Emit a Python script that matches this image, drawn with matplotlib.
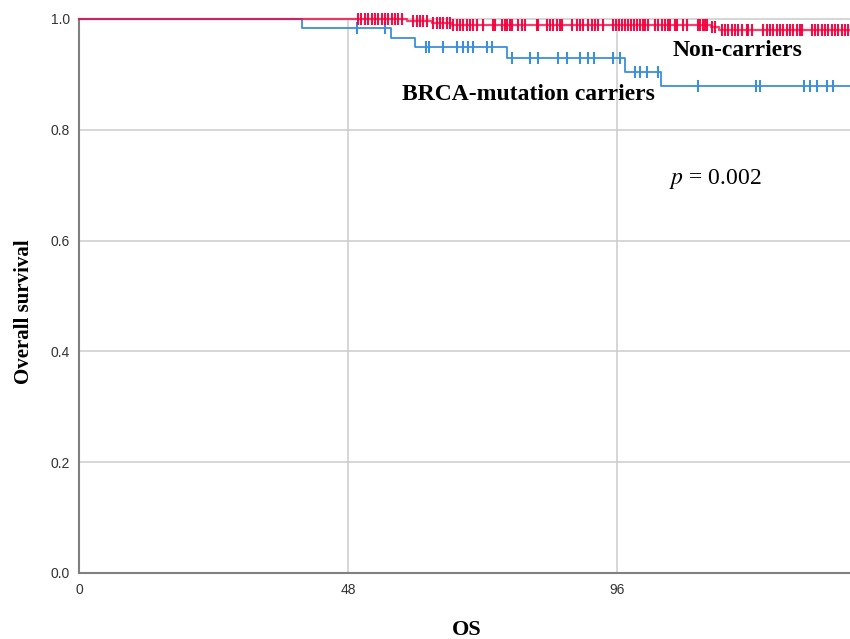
import numpy as np
import matplotlib
matplotlib.use('Agg')
import matplotlib.pyplot as plt

# Kaplan-Meier curves (time in months)
blue_times = [39.7, 55.6, 59.9, 76.3, 97.4, 103.8]
blue_surv = [0.984, 0.965, 0.950, 0.930, 0.905, 0.879]
blue_censored = [49.5, 54.6, 61.9, 62.5, 65.0, 67.4, 68.5, 69.4, 70.3, 72.7, 73.6,
                 77.2, 80.5, 81.9, 85.5, 87.0, 89.4, 90.9, 91.8, 95.3, 96.5,
                 99.2, 100.1, 101.3, 103.4, 110.5, 120.9, 121.5, 129.3, 130.5,
                 131.7, 133.5, 134.6]

red_times = [58.5, 63.0, 66.5, 112.8, 114.2]
red_surv = [0.997, 0.993, 0.990, 0.986, 0.981]
red_censored = [49.7, 50.3, 51.0, 51.5, 52.2, 52.8, 53.3, 54.0, 54.6, 55.1, 55.8,
                56.3, 56.9, 57.6, 59.6, 60.3, 60.8, 61.4, 62.1, 63.1, 63.9, 64.4,
                64.9, 65.6, 66.2, 66.7, 67.4, 67.9, 68.5, 69.2, 69.7, 70.3, 71.0,
                72.1, 73.9, 74.2, 75.5, 76.0, 76.4, 76.9, 77.2, 78.3, 79.0, 79.6,
                81.7, 81.9, 83.5, 84.0, 84.6, 85.3, 85.8, 86.2, 88.0, 88.9, 89.4,
                89.9, 90.8, 91.5, 92.1, 92.6, 93.5, 95.3, 95.8, 96.4, 96.9, 97.4,
                98.0, 98.5, 99.0, 99.6, 100.1, 100.6, 101.0, 101.5, 102.8, 103.3,
                104.0, 104.6, 105.1, 105.5, 106.4, 106.7, 107.8, 108.5, 110.5,
                110.8, 111.4, 111.7, 112.1, 112.9, 113.5, 114.8, 115.3, 115.8,
                116.5, 117.1, 117.6, 118.3, 119.2, 119.4, 120.1, 122.1, 122.8,
                123.3, 123.9, 124.6, 125.1, 125.6, 126.4, 126.9, 127.4, 128.1,
                128.7, 129.0, 130.8, 131.4, 131.9, 132.6, 133.1, 133.7, 134.4,
                134.9, 135.5, 136.2, 136.7, 137.2]

x_ticks = [0, 48, 96]
y_ticks = [0.0, 0.2, 0.4, 0.6, 0.8, 1.0]
x_max = 137.6

blue = '#3d8fdb'
red = '#f5003d'


def km_value(t, times, surv):
    idx = np.searchsorted(times, t, side='right')
    return np.concatenate([[1.0], surv])[idx]


fig = plt.figure(figsize=(8.5, 6.39), dpi=100)
ax = fig.add_axes([0.0935, 0.1033, 1 - 0.0935, 0.867])

# grid
for y in y_ticks[1:]:
    ax.axhline(y, color='#cccccc', lw=1.1, zorder=0, clip_on=False)
for x in x_ticks[1:]:
    ax.axvline(x, color='#cccccc', lw=1.1, zorder=0)

# curves
for times, surv, cens, col, alpha, lw in [(blue_times, blue_surv, blue_censored, blue, 1.0, 1.3),
                                          (red_times, red_surv, red_censored, red, 0.75, 1.6)]:
    xs = np.concatenate([[0], times, [x_max]])
    ys = np.concatenate([[1.0], surv, [surv[-1]]])
    ax.step(xs, ys, where='post', color=col, lw=lw, alpha=alpha, zorder=3, clip_on=False)
    cy = km_value(np.array(cens), times, surv)
    ax.plot(cens, cy, ls='none', marker='|', ms=8.5, mew=1.5, color=col, alpha=min(1, alpha + 0.2),
            zorder=3, clip_on=False)

ax.set_xlim(0, x_max)
ax.set_ylim(0, 1.0)
ax.set_xticks(x_ticks)
ax.set_yticks(y_ticks)
ax.set_yticklabels(['%.1f' % v for v in y_ticks])
ax.tick_params(length=0, pad=7, labelsize=10, labelcolor='#333333')
for lab in ax.get_xticklabels() + ax.get_yticklabels():
    lab.set_family(['Liberation Sans Narrow', 'Liberation Sans'])

for side in ['top', 'right']:
    ax.spines[side].set_visible(False)
for side in ['left', 'bottom']:
    ax.spines[side].set_color('#808080')
    ax.spines[side].set_linewidth(1.5)

serif = ['Liberation Serif', 'DejaVu Serif']
ax.text(106.0, 0.944, 'Non-carriers', family=serif, fontweight='bold', fontsize=17, va='center')
ax.text(57.6, 0.863, 'BRCA-mutation carriers', family=serif, fontweight='bold', fontsize=17, va='center')
ax.text(105.3, 0.711, r'$p$ = 0.002', family=serif, fontsize=17, va='center',
        math_fontfamily='stix')

fig.text(0.028, 0.512, 'Overall survival', family=serif, fontweight='bold', fontsize=15,
         rotation=90, ha='center', va='center')
fig.text(0.549, 0.014, 'OS', family=serif, fontweight='bold', fontsize=16, ha='center', va='center')

fig.savefig('out.png', dpi=100)
